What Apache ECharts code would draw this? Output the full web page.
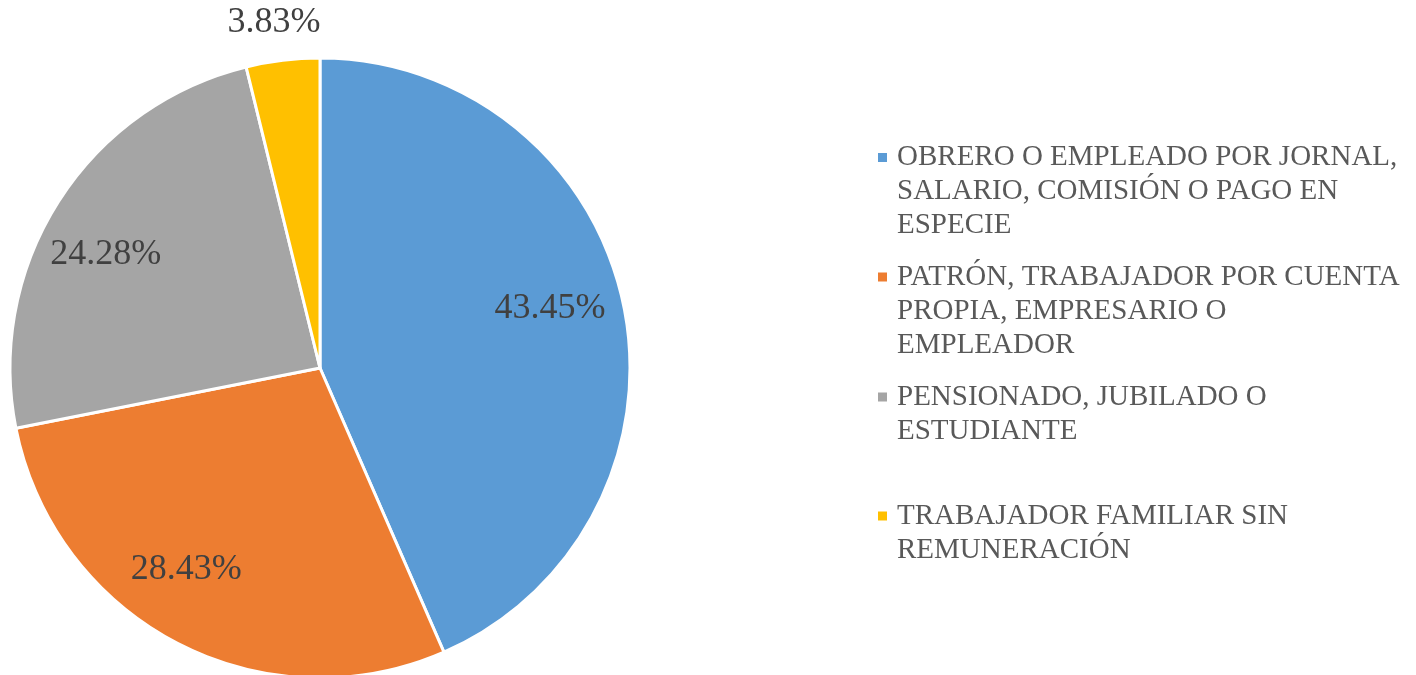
<!DOCTYPE html>
<html>
<head>
<meta charset="utf-8">
<script src="https://cdn.jsdelivr.net/npm/echarts@6/dist/echarts.min.js"></script>
<style>
  html, body { margin: 0; padding: 0; background: #fff; }
  #chart { width: 1416px; height: 675px; }
</style>
</head>
<body>
<div id="chart"></div>
<script>
// categorías y porcentajes
const categories = [
  'OBRERO O EMPLEADO POR JORNAL, SALARIO, COMISIÓN O PAGO EN ESPECIE',
  'PATRÓN, TRABAJADOR POR CUENTA PROPIA, EMPRESARIO O EMPLEADOR',
  'PENSIONADO, JUBILADO O ESTUDIANTE',
  'TRABAJADOR FAMILIAR SIN REMUNERACIÓN'
]
const shares = [43.45, 28.43, 24.28, 3.83]
// texto de la leyenda ya partido en líneas
const legendLines = [
  ['OBRERO O EMPLEADO POR JORNAL,', 'SALARIO, COMISIÓN O PAGO EN', 'ESPECIE'],
  ['PATRÓN, TRABAJADOR POR CUENTA', 'PROPIA, EMPRESARIO O', 'EMPLEADOR'],
  ['PENSIONADO, JUBILADO O', 'ESTUDIANTE'],
  ['TRABAJADOR FAMILIAR SIN', 'REMUNERACIÓN']
]
const colors = ['#5B9BD5', '#ED7D31', '#A5A5A5', '#FFC000']
const outsideLabel = [false, false, false, true]
// pequeños ajustes de las etiquetas (como las coloca Excel)
const labelNudge = [[-6, -10], [-22, -12], [-11, 16], [-4, 1]]

const serif = '"Liberation Serif", "DejaVu Serif", serif'
const myChart = echarts.init(document.getElementById('chart'))

const pieData = categories.map((name, i) => ({ name: name, value: shares[i] }))
const labelFmt = p => p.value.toFixed(2) + '%'
const labelStyle = {
  color: '#404040',
  fontSize: 36,
  fontFamily: serif
}

// una leyenda por elemento para que el cuadro quede en la primera línea
const lineH = 34
const firstLineY = [157.5, 277, 397, 516]
const legends = categories.map((name, i) => {
  const lines = legendLines[i]
  const pad = new Array(lines.length - 1).fill('')
  const text = pad.concat(lines).join('\n')
  const blockH = (lines.length * 2 - 1) * lineH
  return {
    orient: 'vertical',
    left: 876,
    top: firstLineY[i] - blockH / 2,
    padding: 0,
    itemWidth: 11,
    itemHeight: 11,
    icon: 'rect',
    selectedMode: false,
    data: [name],
    formatter: () => text,
    textStyle: {
      color: '#595959',
      fontSize: 29,
      fontFamily: serif,
      lineHeight: lineH,
      padding: [0, 0, 0, 4]
    }
  }
})

const labelItems = show => pieData.map((d, i) => ({
  name: d.name,
  value: d.value,
  label: { show: show(i), offset: labelNudge[i] }
}))

const option = {
  animation: false,
  color: colors,
  legend: legends,
  series: [
    {
      name: 'main',
      type: 'pie',
      center: [320, 368],
      radius: 310,
      startAngle: 90,
      clockwise: true,
      avoidLabelOverlap: false,
      itemStyle: { borderColor: '#fff', borderWidth: 3 },
      label: { show: false },
      labelLine: { show: false },
      emphasis: { disabled: true },
      data: pieData
    },
    {
      // etiquetas dentro de los sectores
      name: 'inner-labels',
      type: 'pie',
      center: [320, 368],
      radius: [166, 310],
      startAngle: 90,
      silent: true,
      avoidLabelOverlap: false,
      itemStyle: { color: 'transparent' },
      label: Object.assign({ show: true, position: 'inside', formatter: labelFmt }, labelStyle),
      labelLine: { show: false },
      emphasis: { disabled: true },
      data: labelItems(i => !outsideLabel[i])
    },
    {
      // etiqueta fuera del sector pequeño
      name: 'outer-labels',
      type: 'pie',
      center: [320, 368],
      radius: [310, 382],
      startAngle: 90,
      silent: true,
      avoidLabelOverlap: false,
      itemStyle: { color: 'transparent' },
      label: Object.assign({ show: true, position: 'inside', formatter: labelFmt }, labelStyle),
      labelLine: { show: false },
      emphasis: { disabled: true },
      data: labelItems(i => outsideLabel[i])
    }
  ]
}

option && myChart.setOption(option)
</script>
</body>
</html>
